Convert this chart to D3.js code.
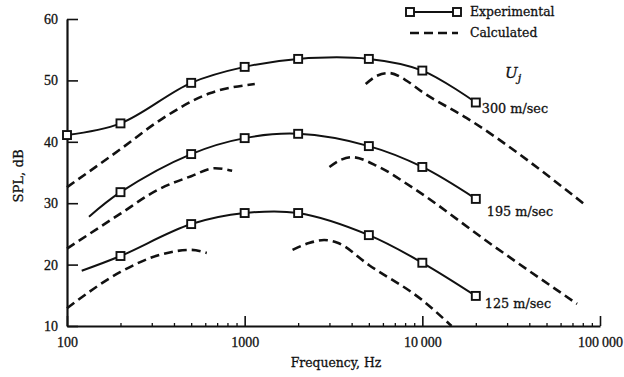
<!DOCTYPE html>
<html>
<head>
<meta charset="utf-8">
<script src="https://cdn.jsdelivr.net/npm/d3@7"></script>
<style>
  html, body { margin: 0; padding: 0; background: #fff; }
  svg { display: block; }
  text { fill: #111; stroke: #111; stroke-width: 0.3px; }
</style>
</head>
<body>
<svg id="chart" width="624" height="377"></svg>
<script>
// ---------- data ----------
const expFreq = [100, 200, 500, 1000, 2000, 5000, 10000, 20000];
const exp300 = [41.1, 43.0, 49.6, 52.2, 53.5, 53.5, 51.6, 46.4];
const exp195 = [null, 31.8, 38.0, 40.6, 41.3, 39.3, 35.9, 30.7];
const exp125 = [null, 21.4, 26.6, 28.4, 28.4, 24.8, 20.3, 14.9];
// where the faired experimental curves begin (no symbol)
const expStart195 = [133, 27.8];
const expStart125 = [121, 19.0];

const calc300Low  = [[100, 32.6], [200, 38.8], [333, 43.5], [636, 47.9], [1140, 49.4]];
const calc300High = [[4800, 49.4], [5600, 50.8], [6500, 51.2], [8000, 50.1], [10000, 48.1], [17700, 43.9], [84500, 29.5]];
const calc195Low  = [[100, 22.6], [200, 28.3], [320, 32.1], [500, 34.4], [680, 35.7], [850, 35.3]];
const calc195High = [[3000, 35.9], [3500, 37.1], [4000, 37.5], [5700, 35.9], [8840, 32.5], [24700, 23.2], [74300, 13.6]];
const calc125Low  = [[100, 12.9], [200, 18.8], [333, 21.6], [500, 22.4], [612, 21.9]];
const calc125High = [[1860, 22.4], [2300, 23.5], [2800, 24.0], [3300, 23.6], [5020, 19.9], [10000, 14.2], [14600, 10.0]];

const xTickValues = [100, 1000, 10000, 100000];
const xTickLabels = ["100", "1000", "10\u2009000", "100\u2009000"];
const yTickValues = [10, 20, 30, 40, 50, 60];
const yTickLabels = ["10", "20", "30", "40", "50", "60"];
const speedLabels = ["300 m/sec", "195 m/sec", "125 m/sec"];
const legendLabels = ["Experimental", "Calculated"];

// ---------- scales ----------
const svg = d3.select("#chart");
const x = d3.scaleLog().domain([100, 100000]).range([67, 600]);
const y = d3.scaleLinear().domain([10, 60]).range([326, 19]);

const serif = "'DejaVu Serif', serif";
const numFont = "'Liberation Serif', serif";

// ---------- axes ----------
const minorTicks = x.ticks().filter(d => xTickValues.indexOf(d) < 0);
const gxMinor = svg.append("g").attr("transform", `translate(0,${y(10)})`)
  .call(d3.axisBottom(x).tickValues(minorTicks).tickSizeInner(-3).tickSizeOuter(0).tickFormat(""));
gxMinor.select(".domain").remove();
gxMinor.selectAll("line").attr("stroke", "#111").attr("stroke-width", 1.3);

const gx = svg.append("g").attr("transform", `translate(0,${y(10)})`)
  .call(d3.axisBottom(x).tickValues(xTickValues).tickSizeInner(-10).tickSizeOuter(0)
    .tickPadding(11).tickFormat((d, i) => xTickLabels[i]));
gx.select(".domain").attr("stroke", "#111").attr("stroke-width", 2.2);
gx.selectAll("line").attr("stroke", "#111").attr("stroke-width", 1.6);
gx.selectAll("text").attr("font-family", numFont).attr("font-size", 14).attr("fill", "#111");

const gy = svg.append("g").attr("transform", `translate(${x(100)},0)`)
  .call(d3.axisLeft(y).tickValues(yTickValues).tickSizeInner(-11).tickSizeOuter(0)
    .tickPadding(9).tickFormat((d, i) => yTickLabels[i]));
gy.select(".domain").attr("stroke", "#111").attr("stroke-width", 2.2);
gy.selectAll("line").attr("stroke", "#111").attr("stroke-width", 1.6);
gy.selectAll("text").attr("font-family", numFont).attr("font-size", 14).attr("fill", "#111");

svg.append("text").attr("x", 336).attr("y", 367).attr("text-anchor", "middle")
  .attr("font-family", serif).attr("font-size", 12.4).text("Frequency, Hz");
svg.append("text").attr("transform", "translate(18,176) rotate(-90)")
  .attr("text-anchor", "middle").attr("dominant-baseline", "central")
  .attr("font-family", serif).attr("font-size", 13.2).text("SPL, dB");

// ---------- curves ----------
const line = d3.line().x(d => x(d[0])).y(d => y(d[1])).curve(d3.curveMonotoneX);
const smooth = d3.line().x(d => x(d[0])).y(d => y(d[1])).curve(d3.curveCatmullRom.alpha(0.5));

const calcSets = [calc300Low, calc300High, calc195Low, calc195High, calc125Low, calc125High];
svg.append("g").selectAll("path").data(calcSets).join("path")
  .attr("d", line).attr("fill", "none").attr("stroke", "#111")
  .attr("stroke-width", 2.6).attr("stroke-dasharray", "9,5");

const expSeries = [
  { vals: exp300, start: null },
  { vals: exp195, start: expStart195 },
  { vals: exp125, start: expStart125 }
];
expSeries.forEach(s => {
  const pts = expFreq.map((f, i) => [f, s.vals[i]]).filter(p => p[1] != null);
  const curvePts = s.start ? [s.start].concat(pts) : pts;
  svg.append("path").attr("d", smooth(curvePts)).attr("fill", "none")
    .attr("stroke", "#111").attr("stroke-width", 2);
  svg.append("g").selectAll("rect").data(pts).join("rect")
    .attr("x", d => x(d[0]) - 4).attr("y", d => y(d[1]) - 4)
    .attr("width", 8).attr("height", 8)
    .attr("fill", "#fff").attr("stroke", "#111").attr("stroke-width", 1.9);
});

// ---------- speed labels ----------
const labelSeries = [exp300, exp195, exp125];
const labelDx = [6, 11, 9];
const labelDy = [10.5, 17, 12];
labelSeries.forEach((vals, i) => {
  const f = expFreq[expFreq.length - 1];
  svg.append("text").attr("x", x(f) + labelDx[i]).attr("y", y(vals[vals.length - 1]) + labelDy[i])
    .attr("font-family", serif).attr("font-size", 12.8).text(speedLabels[i]);
});
const uj = svg.append("text").attr("x", 505).attr("y", 78)
  .attr("font-family", serif).attr("font-style", "italic").attr("font-size", 15);
uj.append("tspan").text("U");
uj.append("tspan").attr("font-size", 11).attr("dy", 4).text("j");

// ---------- legend ----------
const lg = svg.append("g");
lg.append("line").attr("x1", 410).attr("x2", 457).attr("y1", 12).attr("y2", 12)
  .attr("stroke", "#111").attr("stroke-width", 2);
lg.selectAll("rect").data([410, 457]).join("rect")
  .attr("x", d => d - 4).attr("y", 8).attr("width", 8).attr("height", 8)
  .attr("fill", "#fff").attr("stroke", "#111").attr("stroke-width", 1.9);
lg.append("line").attr("x1", 410).attr("x2", 458).attr("y1", 33).attr("y2", 33)
  .attr("stroke", "#111").attr("stroke-width", 2.6).attr("stroke-dasharray", "9,5");
lg.selectAll("text").data(legendLabels).join("text")
  .attr("x", 470).attr("y", (d, i) => 16 + i * 21)
  .attr("font-family", serif).attr("font-size", 12.4).text(d => d);
</script>
</body>
</html>
